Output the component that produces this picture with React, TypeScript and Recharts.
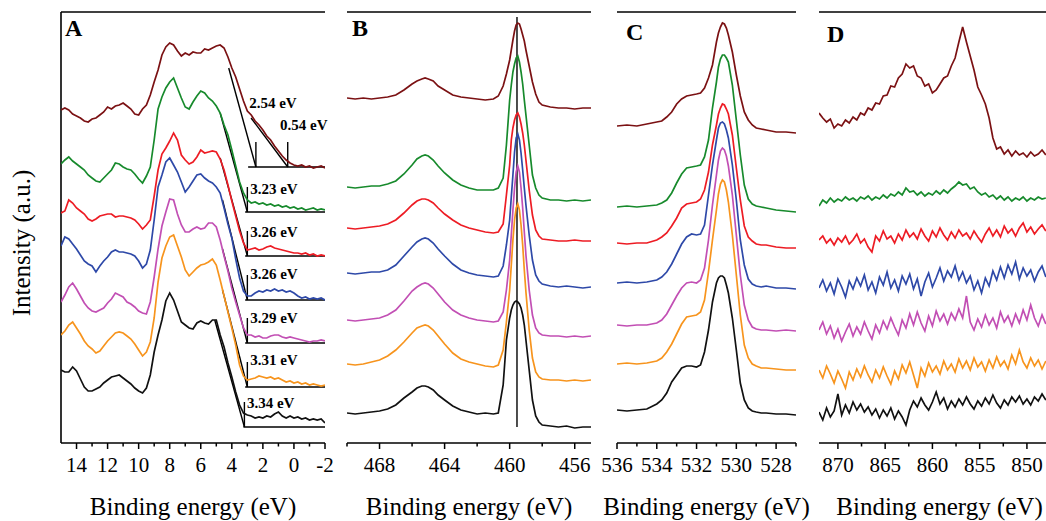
import type { ReactNode } from 'react';
import { LineChart, Line, XAxis, YAxis, ReferenceLine, ReferenceDot } from 'recharts';

const FONT = "'Liberation Serif', 'Times New Roman', Times, serif";
const YMAX = 431;

const SERIES = [
  { key: 'brown', color: '#7b1113' },
  { key: 'green', color: '#178a2c' },
  { key: 'red', color: '#ed1c24' },
  { key: 'blue', color: '#2e49a8' },
  { key: 'magenta', color: '#c24fb4' },
  { key: 'orange', color: '#f7941d' },
  { key: 'black', color: '#111111' },
];

// ---- panel A: valence band ----
const energyA = [
  15, 14.75, 14.5, 14.25, 14, 13.75, 13.5, 13.25, 13, 12.75, 12.5, 12.25, 12, 11.75, 11.5, 11.25, 11, 10.75,
  10.5, 10.25, 10, 9.75, 9.5, 9.25, 9, 8.75, 8.5, 8.25, 8, 7.75, 7.5, 7.25, 7, 6.75, 6.5, 6.25, 6, 5.75, 5.5,
  5.25, 5, 4.75, 4.5, 4.25, 4, 3.75, 3.5, 3.25, 3, 2.75, 2.5, 2.25, 2, 1.75, 1.5, 1.25, 1, 0.75, 0.5, 0.25, 0,
  -0.25, -0.5, -0.75, -1, -1.25, -1.5, -1.75, -2,
];
const aBrown = [
  333, 335, 333, 329, 327, 325, 322, 321, 324, 325, 328, 331, 336, 334, 337, 338, 340, 337, 334, 329, 328, 334,
  338, 348, 361, 373, 388, 396, 400, 398, 392, 387, 390, 388, 391, 390, 390, 394, 393, 395, 397, 398, 395, 386,
  375, 366, 354, 342, 332, 328, 322, 318, 313, 307, 303, 297, 292, 287, 283, 280, 278, 277, 278, 276, 277, 275,
  276, 277, 275,
];
const aGreen = [
  279, 283, 286, 282, 279, 276, 273, 268, 265, 262, 261, 265, 269, 273, 280, 279, 276, 274, 273, 269, 264, 260,
  267, 276, 303, 334, 346, 355, 361, 365, 355, 345, 336, 334, 341, 347, 352, 350, 345, 342, 337, 330, 318, 308,
  293, 277, 261, 250, 243, 240, 241, 239, 240, 238, 239, 237, 238, 236, 237, 235, 236, 234, 235, 233, 234, 235,
  233, 234, 233,
];
const aRed = [
  230, 232, 243, 240, 235, 232, 229, 224, 222, 224, 227, 228, 229, 229, 226, 227, 227, 226, 225, 223, 219, 214,
  218, 223, 247, 273, 289, 295, 302, 310, 303, 288, 283, 279, 281, 286, 293, 290, 291, 292, 291, 284, 273, 258,
  242, 227, 212, 200, 193, 194, 195, 193, 194, 196, 197, 195, 194, 193, 192, 191, 190, 190, 189, 190, 188, 189,
  187, 188, 187,
];
const aBlue = [
  197, 206, 204, 199, 194, 188, 182, 179, 177, 171, 177, 182, 186, 191, 193, 191, 191, 190, 189, 187, 182, 175,
  179, 193, 223, 256, 268, 281, 285, 278, 271, 261, 251, 256, 262, 268, 269, 265, 262, 260, 256, 250, 235, 219,
  205, 184, 165, 152, 147, 147, 150, 152, 151, 153, 152, 154, 152, 153, 151, 152, 150, 147, 145, 146, 144, 145,
  144, 145, 143,
];
const aMagenta = [
  141, 148, 156, 160, 154, 147, 140, 135, 132, 131, 133, 135, 140, 144, 150, 148, 146, 141, 139, 136, 132, 130,
  129, 141, 166, 194, 217, 231, 244, 243, 229, 218, 211, 211, 214, 216, 214, 215, 220, 220, 216, 203, 187, 172,
  155, 141, 128, 115, 108, 108, 106, 107, 105, 105, 107, 108, 108, 106, 105, 106, 105, 104, 103, 102, 101, 102,
  102, 103, 102,
];
const aOrange = [
  108, 112, 118, 121, 115, 109, 102, 97, 94, 90, 92, 97, 102, 106, 110, 111, 110, 107, 104, 99, 93, 87, 91, 101,
  125, 161, 185, 197, 206, 208, 197, 186, 173, 167, 171, 175, 178, 179, 181, 184, 178, 163, 147, 131, 115, 98, 78,
  67, 63, 64, 65, 67, 66, 65, 66, 64, 65, 63, 61, 62, 60, 61, 59, 60, 58, 59, 58, 57, 58,
];
const aBlack = [
  73, 71, 71, 76, 72, 64, 56, 52, 52, 54, 56, 60, 63, 66, 67, 68, 65, 62, 59, 55, 52, 50, 55, 68, 91, 108, 123,
  142, 150, 143, 132, 121, 118, 115, 114, 120, 122, 120, 119, 123, 123, 108, 96, 80, 66, 51, 38, 30, 28, 27, 25,
  26, 25, 27, 26, 29, 31, 27, 25, 27, 25, 26, 24, 25, 23, 24, 23, 24, 20,
];

// band-edge extrapolation lines in panel A
const edgeTangents = [
  [4.2, 375, 2.45, 276],
  [2.76, 325, 0.4, 276],
  [4.75, 330, 3.0, 231],
  [4.75, 285, 3.0, 187],
  [4.6, 243, 3.0, 143],
  [4.6, 194, 3.0, 100],
  [4.6, 153, 3.0, 56],
  [5.1, 123, 3.19, 16],
];
const edgeBaselines = [
  [2.95, 276],
  [3.14, 231],
  [3.14, 187],
  [3.14, 143],
  [3.14, 100],
  [3.14, 56],
  [3.25, 16],
];
const edgeMarks = [
  [2.45, 276],
  [0.4, 276],
  [3.0, 231],
  [3.0, 187],
  [3.0, 143],
  [3.0, 100],
  [3.0, 56],
  [3.19, 16],
];
const gapLabels = ['2.54 eV', '0.54 eV', '3.23 eV', '3.26 eV', '3.26 eV', '3.29 eV', '3.31 eV', '3.34 eV'];
const gapLabelPos = [
  [2.88, 340],
  [0.89, 318],
  [2.82, 254],
  [2.82, 211],
  [2.82, 169],
  [2.82, 125],
  [2.82, 83],
  [3.03, 40],
];

// ---- panel B: Ti 2p ----
const energyB = [
  470, 469.5, 469, 468.5, 468, 467.5, 467, 466.5, 466, 465.7, 465.4, 465.2, 465, 464.7, 464.4, 464, 463.5, 463,
  462.5, 462, 461.5, 461, 460.7, 460.4, 460.2, 460, 459.9, 459.8, 459.7, 459.6, 459.5, 459.4, 459.3, 459.2, 459.1,
  459, 458.8, 458.6, 458.4, 458.2, 458, 457.5, 457, 456.5, 456, 455.5, 455,
];
const bBrown = [
  345, 344, 345, 344, 345, 346, 348, 353, 359, 362, 364, 365, 364, 362, 357, 353, 348, 346, 345, 344, 343, 344,
  347, 357, 369, 383, 393, 403, 412, 418, 420, 419, 414, 408, 402, 393, 377, 361, 349, 341, 338, 336, 335, 335,
  334, 335, 335,
];
const bGreen = [
  256, 255, 256, 257, 257, 259, 262, 269, 278, 284, 287, 288, 287, 283, 277, 270, 263, 258, 255, 253, 253, 253,
  255, 265, 298, 343, 358, 371, 379, 385, 387, 381, 371, 359, 343, 328, 298, 268, 255, 248, 245, 243, 243, 242,
  243, 242, 243,
];
const bRed = [
  215, 214, 215, 216, 217, 219, 223, 230, 238, 242, 244, 244, 243, 240, 235, 229, 223, 218, 215, 213, 211, 210,
  211, 219, 248, 278, 303, 315, 323, 328, 330, 326, 319, 310, 298, 283, 253, 228, 213, 207, 204, 203, 202, 202,
  203, 202, 202,
];
const bBlue = [
  170, 169, 170, 171, 171, 173, 178, 187, 196, 201, 204, 205, 204, 200, 194, 187, 179, 173, 170, 168, 167, 166,
  167, 177, 198, 223, 246, 268, 291, 305, 309, 303, 290, 273, 255, 238, 208, 183, 168, 162, 159, 157, 156, 157,
  156, 155, 156,
];
const bMagenta = [
  123, 122, 123, 124, 125, 128, 133, 142, 152, 156, 159, 160, 159, 155, 149, 141, 133, 128, 125, 123, 122, 121,
  122, 131, 153, 183, 208, 233, 255, 271, 277, 271, 255, 235, 211, 188, 153, 128, 115, 110, 108, 107, 107, 106,
  107, 106, 107,
];
const bOrange = [
  79, 78, 79, 81, 83, 87, 93, 101, 110, 115, 117, 118, 117, 113, 107, 99, 90, 84, 81, 79, 77, 76, 78, 93, 121,
  153, 178, 203, 223, 235, 239, 233, 218, 198, 173, 151, 113, 85, 71, 66, 64, 63, 63, 62, 63, 62, 63,
];
const bBlack = [
  30, 29, 30, 31, 32, 34, 38, 45, 51, 55, 57, 57, 56, 53, 48, 43, 37, 33, 31, 29, 30, 29, 30, 58, 103, 125, 133,
  138, 141, 142, 141, 139, 135, 128, 118, 103, 73, 43, 27, 21, 18, 17, 16, 17, 15, 16, 16,
];
const ti2pLine = 459.55;

// ---- panel C: O 1s ----
const energyC = [
  536, 535.5, 535, 534.5, 534, 533.75, 533.5, 533.25, 533, 532.75, 532.5, 532.25, 532, 531.8, 531.6, 531.4,
  531.2, 531, 530.9, 530.8, 530.7, 530.6, 530.5, 530.4, 530.2, 530, 529.8, 529.6, 529.4, 529.2, 529, 528.75,
  528.5, 528, 527.5, 527,
];
const cBrown = [
  317, 318, 317, 319, 321, 322, 326, 331, 339, 344, 347, 348, 349, 350, 355, 365, 378, 401, 410, 416, 420, 419,
  415, 408, 391, 368, 347, 331, 323, 318, 315, 314, 313, 311, 311, 310,
];
const cGreen = [
  236, 237, 236, 237, 238, 240, 243, 250, 260, 269, 275, 276, 277, 278, 286, 303, 335, 361, 376, 384, 388, 388,
  385, 381, 358, 323, 288, 258, 244, 239, 237, 236, 235, 233, 232, 231,
];
const cRed = [
  200, 199, 200, 200, 203, 206, 210, 217, 225, 235, 239, 240, 241, 244, 253, 271, 298, 318, 329, 335, 339, 338,
  334, 329, 308, 275, 243, 217, 206, 202, 199, 198, 198, 196, 195, 195,
];
const cBlue = [
  160, 161, 160, 161, 163, 166, 171, 179, 189, 199, 206, 209, 208, 209, 218, 248, 278, 303, 315, 320, 321, 319,
  313, 305, 278, 243, 203, 178, 164, 159, 157, 156, 157, 155, 155, 154,
];
const cMagenta = [
  118, 117, 118, 118, 120, 123, 129, 138, 147, 155, 160, 161, 160, 163, 175, 203, 238, 268, 283, 292, 295, 293,
  287, 277, 248, 208, 168, 138, 123, 116, 114, 113, 113, 112, 113, 112,
];
const cOrange = [
  79, 80, 79, 80, 82, 85, 91, 99, 109, 119, 126, 127, 128, 131, 143, 171, 203, 233, 249, 259, 263, 261, 253, 241,
  208, 168, 128, 98, 85, 79, 77, 75, 75, 74, 73, 73,
];
const cBlack = [
  33, 32, 33, 34, 39, 43, 50, 61, 68, 75, 77, 77, 76, 78, 91, 113, 141, 160, 165, 167, 167, 165, 158, 150, 125,
  93, 60, 43, 35, 32, 31, 30, 30, 29, 29, 28,
];

// ---- panel D: Ni 2p ----
const energyD = [
  872, 871.6, 871.2, 870.8, 870.4, 870, 869.6, 869.2, 868.8, 868.4, 868, 867.6, 867.2, 866.8, 866.4, 866, 865.6,
  865.2, 864.8, 864.4, 864, 863.6, 863.2, 862.8, 862.4, 862, 861.6, 861.2, 860.8, 860.4, 860, 859.6, 859.2, 858.8,
  858.4, 858, 857.6, 857.2, 856.8, 856.4, 856, 855.6, 855.2, 854.8, 854.4, 854, 853.6, 853.2, 852.8, 852.4, 852,
  851.6, 851.2, 850.8, 850.4, 850, 849.6, 849.2, 848.8, 848.4, 848,
];
const dBrown = [
  330, 325, 321, 324, 315, 319, 317, 323, 320, 326, 323, 330, 328, 335, 333, 340, 339, 347, 348, 357, 356, 365,
  369, 379, 375, 377, 367, 365, 357, 359, 350, 353, 359, 365, 367, 377, 385, 401, 416, 401, 387, 373, 356, 348,
  339, 325, 305, 294, 296, 289, 293, 287, 292, 288, 290, 286, 291, 287, 289, 293, 288,
];
const dGreen = [
  237, 243, 240, 245, 241, 244, 242, 246, 243, 245, 242, 246, 244, 247, 243, 246, 244, 248, 245, 249, 247, 251,
  248, 255, 251, 252, 248, 251, 247, 250, 248, 252, 249, 253, 250, 254, 257, 261, 258, 259, 254, 256, 251, 248,
  250, 246, 248, 244, 247, 243, 246, 242, 245, 243, 246, 242, 245, 243, 246, 244, 245,
];
const dRed = [
  203, 207, 200, 204, 198, 205, 201, 207, 199, 203, 209, 200, 204, 196, 191, 207, 202, 212, 204, 207, 200, 209,
  203, 213, 206, 210, 204, 214, 207, 202, 212, 206, 215, 208, 203, 211, 205, 213, 207, 210, 204, 212, 206, 201,
  209, 215, 207, 213, 206, 217, 210, 214, 207, 215, 220, 211, 216, 209, 214, 218, 212,
];
const dBlue = [
  155, 163, 152, 160, 149, 164, 156, 146, 162, 154, 165, 157, 168, 153, 161, 150, 166, 158, 171, 155, 163, 152,
  167, 159, 169, 154, 164, 147, 161, 170, 156, 165, 175, 162, 172, 166, 177, 163, 171, 160, 167, 153, 162, 150,
  165, 157, 172, 163, 176, 165, 178, 169, 181, 164, 175, 167, 173, 162, 171, 177, 166,
];
const dMagenta = [
  113, 121, 109, 117, 105, 114, 102, 111, 119, 107, 116, 109, 121, 112, 104, 118, 110, 122, 114, 125, 116, 108,
  123, 115, 129, 118, 131, 120, 112, 127, 117, 132, 122, 129, 119, 130, 123, 134, 125, 147, 121, 113, 124, 116,
  128, 118, 125, 115, 131, 121, 127, 117, 129, 120, 133, 123, 138, 125, 117, 128, 119,
];
const dOrange = [
  73, 65, 77, 69, 60, 72, 64, 55, 71, 63, 74, 66, 77, 68, 61, 73, 65, 76, 67, 59, 72, 64, 78, 70, 81, 68, 55, 75,
  67, 80, 71, 77, 69, 82, 73, 79, 71, 84, 75, 82, 73, 85, 76, 81, 72, 83, 75, 86, 77, 82, 74, 88, 79, 93, 81, 75,
  85, 77, 83, 74, 82,
];
const dBlack = [
  31, 23, 35, 26, 32, 49, 28, 38, 30, 41, 33, 39, 31, 36, 28, 34, 25, 33, 27, 35, 24, 32, 26, 18, 33, 42, 36, 45,
  38, 33, 41, 51, 39, 45, 34, 42, 36, 44, 38, 46, 39, 34, 42, 37, 45, 39, 48, 40, 35, 43, 38, 46, 41, 47, 39, 44,
  38, 46, 42, 49, 43,
];

function buildRows(energy: number[], traces: number[][]) {
  return energy.map((e, i) => {
    const row: Record<string, number> = { e };
    SERIES.forEach((s, j) => {
      row[s.key] = traces[j][i];
    });
    return row;
  });
}

function AxisTick(props: any) {
  const { x, y, payload, majors } = props;
  const major = majors.includes(payload.value);
  return (
    <g>
      <line x1={x} x2={x} y1={y} y2={y + (major ? 6 : 3.5)} stroke="#000" strokeWidth={1.5} />
      {major ? (
        <text x={x} y={y + 28.5} textAnchor="middle" fontSize={21} fontFamily={FONT} fill="#000">
          {payload.value}
        </text>
      ) : null}
    </g>
  );
}

type PanelProps = {
  energy: number[];
  traces: number[][];
  domain: [number, number];
  majors: number[];
  minors: number[];
  plotLeft: number;
  plotWidth: number;
  children?: ReactNode;
};

function Panel({ energy, traces, domain, majors, minors, plotLeft, plotWidth, children }: PanelProps) {
  const rows = buildRows(energy, traces);
  const ticks = [...majors, ...minors].sort((a, b) => a - b);
  const mL = 30;
  const mR = 20;
  return (
    <div style={{ position: 'absolute', left: plotLeft - mL, top: 0 }}>
      <LineChart width={mL + plotWidth + mR} height={521} data={rows} margin={{ top: 12, right: mR, bottom: 48, left: mL }}>
        <XAxis
          dataKey="e"
          type="number"
          domain={domain}
          reversed
          allowDataOverflow
          ticks={ticks}
          interval={0}
          tickSize={0}
          tickMargin={0}
          tickLine={false}
          tick={(p: any) => <AxisTick {...p} majors={majors} />}
          axisLine={{ stroke: '#000', strokeWidth: 1.6 }}
          height={30}
          label={{
            value: 'Binding energy (eV)',
            position: 'bottom',
            offset: 24,
            fontSize: 25,
            fill: '#000',
            fontFamily: FONT,
          }}
        />
        <YAxis hide domain={[0, YMAX]} allowDataOverflow />
        <ReferenceLine y={YMAX} stroke="#000" strokeWidth={1.6} />
        {children}
        {SERIES.map((s) => (
          <Line
            key={s.key}
            type="linear"
            dataKey={s.key}
            stroke={s.color}
            strokeWidth={1.7}
            dot={false}
            isAnimationActive={false}
          />
        ))}
      </LineChart>
    </div>
  );
}

const letterStyle = (left: number, top: number) => ({
  position: 'absolute' as const,
  left,
  top,
  fontFamily: FONT,
  fontWeight: 700,
  fontSize: 24,
  lineHeight: '24px',
  color: '#000',
});

export default function App() {
  const annotations = [
    ...edgeTangents.map((t, i) => (
      <ReferenceLine
        key={`t${i}`}
        segment={[
          { x: t[0], y: t[1] },
          { x: t[2], y: t[3] },
        ]}
        stroke="#000"
        strokeWidth={1.4}
      />
    )),
    ...edgeBaselines.map((b, i) => (
      <ReferenceLine
        key={`b${i}`}
        segment={[
          { x: b[0], y: b[1] },
          { x: -2, y: b[1] },
        ]}
        stroke="#000"
        strokeWidth={1.4}
      />
    )),
    ...edgeMarks.map((m, i) => (
      <ReferenceLine
        key={`m${i}`}
        segment={[
          { x: m[0], y: m[1] },
          { x: m[0], y: m[1] + 25 },
        ]}
        stroke="#000"
        strokeWidth={1.4}
      />
    )),
    ...gapLabels.map((txt, i) => (
      <ReferenceDot
        key={`l${i}`}
        x={gapLabelPos[i][0]}
        y={gapLabelPos[i][1]}
        r={1}
        shape={(p: any) => (
          <text x={p.cx} y={p.cy + 5} fontSize={15} fontWeight={700} fontFamily={FONT} fill="#000">
            {txt}
          </text>
        )}
      />
    )),
  ];

  return (
    <div
      style={{
        position: 'fixed',
        left: 0,
        top: 0,
        width: 1046,
        height: 521,
        overflow: 'hidden',
        background: '#fff',
      }}
    >
      <Panel
        energy={energyA}
        traces={[aBrown, aGreen, aRed, aBlue, aMagenta, aOrange, aBlack]}
        domain={[-2, 15]}
        majors={[14, 12, 10, 8, 6, 4, 2, 0, -2]}
        minors={[13, 11, 9, 7, 5, 3, 1, -1]}
        plotLeft={61}
        plotWidth={264}
      >
        <ReferenceLine x={15} stroke="#000" strokeWidth={1.6} />
        {annotations}
      </Panel>
      <Panel
        energy={energyB}
        traces={[bBrown, bGreen, bRed, bBlue, bMagenta, bOrange, bBlack]}
        domain={[455, 470]}
        majors={[468, 464, 460, 456]}
        minors={[470, 466, 462, 458]}
        plotLeft={347}
        plotWidth={244}
      >
        <ReferenceLine
          segment={[
            { x: ti2pLine, y: 16 },
            { x: ti2pLine, y: 426 },
          ]}
          stroke="#000"
          strokeWidth={1.4}
        />
      </Panel>
      <Panel
        energy={energyC}
        traces={[cBrown, cGreen, cRed, cBlue, cMagenta, cOrange, cBlack]}
        domain={[527, 536]}
        majors={[536, 534, 532, 530, 528]}
        minors={[535, 533, 531, 529, 527]}
        plotLeft={617}
        plotWidth={179}
      />
      <Panel
        energy={energyD}
        traces={[dBrown, dGreen, dRed, dBlue, dMagenta, dOrange, dBlack]}
        domain={[846.5, 872]}
        majors={[870, 865, 860, 855, 850]}
        minors={[867.5, 862.5, 857.5, 852.5, 847.5]}
        plotLeft={819}
        plotWidth={241}
      />
      <div style={letterStyle(65, 16)}>A</div>
      <div style={letterStyle(352, 16)}>B</div>
      <div style={letterStyle(626, 20)}>C</div>
      <div style={letterStyle(827, 22)}>D</div>
      <div
        style={{
          position: 'absolute',
          left: 22,
          top: 243,
          transform: 'translate(-50%, -50%) rotate(-90deg)',
          whiteSpace: 'nowrap',
          fontFamily: FONT,
          fontSize: 25,
          color: '#000',
        }}
      >
        Intensity (a.u.)
      </div>
    </div>
  );
}
